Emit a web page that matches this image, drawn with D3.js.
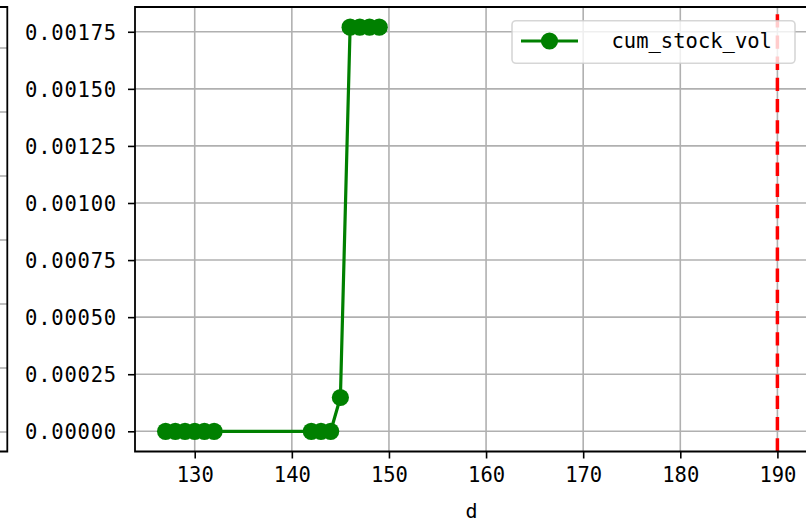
<!DOCTYPE html>
<html>
<head>
<meta charset="utf-8">
<script src="https://cdn.jsdelivr.net/npm/d3@7"></script>
<style>
  html, body { margin: 0; padding: 0; background: #fff; }
  svg { display: block; }
  text { font-family: "DejaVu Sans Mono", "Liberation Mono", monospace; fill: #000; }
</style>
</head>
<body>
<svg id="chart" width="806" height="522"></svg>
<script>
// ---- data ----
const days = [127, 128, 129, 130, 131, 132, 142, 143, 144, 145, 146, 147, 148, 149];
const cumStockVol = [0, 0, 0, 0, 0, 0, 0, 0, 0, 0.000148, 0.00177, 0.00177, 0.00177, 0.00177];
const xTicks = [130, 140, 150, 160, 170, 180, 190];
const yTicks = [0, 0.00025, 0.0005, 0.00075, 0.001, 0.00125, 0.0015, 0.00175];
const vlineX = 190;
const seriesName = "cum_stock_vol";
const xLabel = "d";
// neighbouring (cropped) panel on the left: only its grid rows are visible
const leftPanelTicks = [0, 1, 2, 3, 4, 5, 6];

// ---- layout ----
const svg = d3.select("#chart");
const L = 135, R = 808, T = 7, B = 451.5;

const xMinData = d3.min(days), xMaxData = vlineX;
const xPad = (xMaxData - xMinData) * 0.05;
const x = d3.scaleLinear().domain([xMinData - xPad, xMaxData + xPad]).range([L, R]);
const yMax = d3.max(cumStockVol), yPad = yMax * 0.05;
const y = d3.scaleLinear().domain([-yPad, yMax + yPad]).range([B, T]);

const gridColor = "#b0b0b0";

// ---- left cropped panel ----
const yLeft = d3.scaleLinear().domain([0, 6]).range([432, 48]);
const leftG = svg.append("g");
leftG.selectAll("line.lg").data(leftPanelTicks).join("line")
  .attr("x1", 0).attr("x2", 7).attr("y1", d => yLeft(d)).attr("y2", d => yLeft(d))
  .attr("stroke", gridColor).attr("stroke-width", 1.6);
leftG.append("path")
  .attr("d", `M0,${T} H7.3 V${B} H0`)
  .attr("fill", "none").attr("stroke", "#000").attr("stroke-width", 1.8);

// ---- grid ----
const grid = svg.append("g");
grid.selectAll("line.vg").data(xTicks).join("line")
  .attr("x1", d => x(d)).attr("x2", d => x(d)).attr("y1", T).attr("y2", B)
  .attr("stroke", gridColor).attr("stroke-width", 1.6);
grid.selectAll("line.hg").data(yTicks).join("line")
  .attr("x1", L).attr("x2", R).attr("y1", d => y(d)).attr("y2", d => y(d))
  .attr("stroke", gridColor).attr("stroke-width", 1.6);

// ---- vertical red dashed line ----
svg.append("line")
  .attr("x1", x(vlineX)).attr("x2", x(vlineX)).attr("y1", B).attr("y2", T)
  .attr("stroke", "#ff0000").attr("stroke-width", 3.5)
  .attr("stroke-dasharray", "13.3,7.9");

// ---- series ----
const pts = days.map((d, i) => [d, cumStockVol[i]]);
svg.append("path")
  .datum(pts)
  .attr("d", d3.line().x(d => x(d[0])).y(d => y(d[1])))
  .attr("fill", "none").attr("stroke", "#008000").attr("stroke-width", 3.2)
  .attr("stroke-linejoin", "round");
svg.append("g").selectAll("circle").data(pts).join("circle")
  .attr("cx", d => x(d[0])).attr("cy", d => y(d[1])).attr("r", 8.6)
  .attr("fill", "#008000");

// ---- spines ----
svg.append("path")
  .attr("d", `M${R},${T} H${L} V${B} H${R}`)
  .attr("fill", "none").attr("stroke", "#000").attr("stroke-width", 1.8);

// ---- axes ----
const xAxis = d3.axisBottom(x).tickValues(xTicks).tickSize(7).tickPadding(9).tickFormat(d3.format("d"));
const gx = svg.append("g").attr("transform", `translate(0,${B})`).call(xAxis);
gx.select(".domain").remove();
gx.selectAll(".tick line").attr("stroke", "#000").attr("stroke-width", 1.6);
gx.selectAll(".tick text").attr("font-size", "20.5px")
  .attr("font-family", "'DejaVu Sans Mono', monospace").attr("dy", "0.72em");

const yAxis = d3.axisLeft(y).tickValues(yTicks).tickSize(7).tickPadding(11).tickFormat(d3.format(".5f"));
const gy = svg.append("g").attr("transform", `translate(${L},0)`).call(yAxis);
gy.select(".domain").remove();
gy.selectAll(".tick line").attr("stroke", "#000").attr("stroke-width", 1.6);
gy.selectAll(".tick text").attr("font-size", "20.5px")
  .attr("font-family", "'DejaVu Sans Mono', monospace")
  .attr("letter-spacing", "0.8px").attr("dy", "0.36em");

// x label
svg.append("text").attr("x", (L + R) / 2).attr("y", 518)
  .attr("text-anchor", "middle").attr("font-size", "20px").text(xLabel);

// ---- legend ----
const lg = svg.append("g");
lg.append("rect").attr("x", 512).attr("y", 20.7).attr("width", 283).attr("height", 42.6)
  .attr("rx", 4).attr("ry", 4)
  .attr("fill", "#ffffff").attr("fill-opacity", 0.8)
  .attr("stroke", "#cccccc").attr("stroke-opacity", 0.8).attr("stroke-width", 1.6);
lg.append("line").attr("x1", 521).attr("x2", 578).attr("y1", 41).attr("y2", 41)
  .attr("stroke", "#008000").attr("stroke-width", 3.2);
lg.append("circle").attr("cx", 549.5).attr("cy", 41).attr("r", 8.6).attr("fill", "#008000");
lg.append("text").attr("x", 611.5).attr("y", 41).attr("dy", "0.36em")
  .attr("font-size", "20.5px").text(seriesName);
</script>
</body>
</html>
